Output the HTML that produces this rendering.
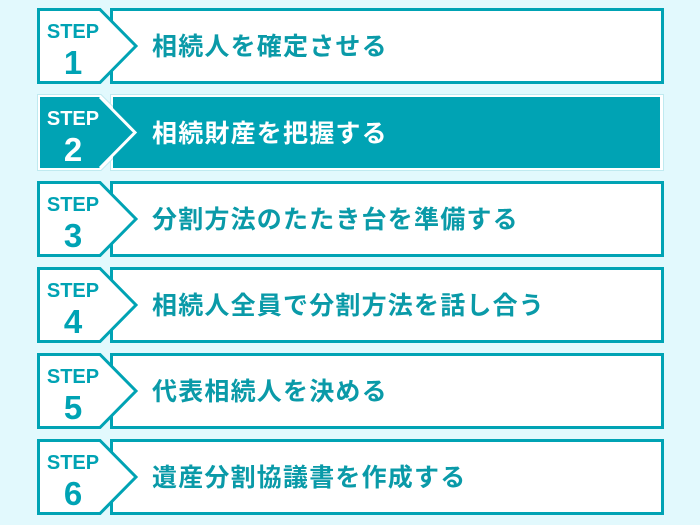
<!DOCTYPE html>
<html><head><meta charset="utf-8"><style>
html,body{margin:0;padding:0;background:#e2f9fd;}
svg{display:block}
text{font-family:"Liberation Sans","Noto Sans CJK JP",sans-serif;font-weight:bold}
.s{font-size:20px;text-anchor:middle}
.n{font-size:33px;text-anchor:middle}
.t{font-size:25px;letter-spacing:1.2px}
</style></head><body>
<svg width="700" height="525" viewBox="0 0 700 525" xmlns="http://www.w3.org/2000/svg">
<rect width="700" height="525" fill="#e2f9fd"/>
<g transform="translate(0,8)">
<rect x="111.5" y="1.5" width="551" height="73" fill="#fff" stroke="#00a3b4" stroke-width="3"/>
<path d="M38.5 1.5 H100 L136 38 L100 74.5 H38.5 Z" fill="#fff" stroke="#00a3b4" stroke-width="3"/>
<text x="73" y="30" class="s" fill="#00a3b4">STEP</text>
<text x="73" y="66" class="n" fill="#00a3b4">1</text>
<text x="152" y="47" class="t" fill="#0a9aa8">相続人を確定させる</text>
</g>
<g transform="translate(0,94)">
<rect x="110.5" y="0.5" width="553" height="76" fill="#fff" stroke="#bfeaf0" stroke-width="1"/>
<path d="M37.5 0.5 H101 L139 38.5 L101 76.5 H37.5 Z" fill="#fff" stroke="#bfeaf0" stroke-width="1"/>
<rect x="113" y="3" width="547" height="71" fill="#00a3b4"/>
<path d="M40 3 H100 L135 38.5 L100 74 H40 Z" fill="#00a3b4"/>
<path d="M100 3 L135 38.5 L100 74" fill="none" stroke="#fff" stroke-width="3"/>
<text x="73" y="31" class="s" fill="#fff">STEP</text>
<text x="73" y="67" class="n" fill="#fff">2</text>
<text x="152" y="48" class="t" fill="#fff">相続財産を把握する</text>
</g>
<g transform="translate(0,181)">
<rect x="111.5" y="1.5" width="551" height="73" fill="#fff" stroke="#00a3b4" stroke-width="3"/>
<path d="M38.5 1.5 H100 L136 38 L100 74.5 H38.5 Z" fill="#fff" stroke="#00a3b4" stroke-width="3"/>
<text x="73" y="30" class="s" fill="#00a3b4">STEP</text>
<text x="73" y="66" class="n" fill="#00a3b4">3</text>
<text x="152" y="47" class="t" fill="#0a9aa8">分割方法のたたき台を準備する</text>
</g>
<g transform="translate(0,267)">
<rect x="111.5" y="1.5" width="551" height="73" fill="#fff" stroke="#00a3b4" stroke-width="3"/>
<path d="M38.5 1.5 H100 L136 38 L100 74.5 H38.5 Z" fill="#fff" stroke="#00a3b4" stroke-width="3"/>
<text x="73" y="30" class="s" fill="#00a3b4">STEP</text>
<text x="73" y="66" class="n" fill="#00a3b4">4</text>
<text x="152" y="47" class="t" fill="#0a9aa8">相続人全員で分割方法を話し合う</text>
</g>
<g transform="translate(0,353)">
<rect x="111.5" y="1.5" width="551" height="73" fill="#fff" stroke="#00a3b4" stroke-width="3"/>
<path d="M38.5 1.5 H100 L136 38 L100 74.5 H38.5 Z" fill="#fff" stroke="#00a3b4" stroke-width="3"/>
<text x="73" y="30" class="s" fill="#00a3b4">STEP</text>
<text x="73" y="66" class="n" fill="#00a3b4">5</text>
<text x="152" y="47" class="t" fill="#0a9aa8">代表相続人を決める</text>
</g>
<g transform="translate(0,439)">
<rect x="111.5" y="1.5" width="551" height="73" fill="#fff" stroke="#00a3b4" stroke-width="3"/>
<path d="M38.5 1.5 H100 L136 38 L100 74.5 H38.5 Z" fill="#fff" stroke="#00a3b4" stroke-width="3"/>
<text x="73" y="30" class="s" fill="#00a3b4">STEP</text>
<text x="73" y="66" class="n" fill="#00a3b4">6</text>
<text x="152" y="47" class="t" fill="#0a9aa8">遺産分割協議書を作成する</text>
</g>
</svg>
</body></html>
